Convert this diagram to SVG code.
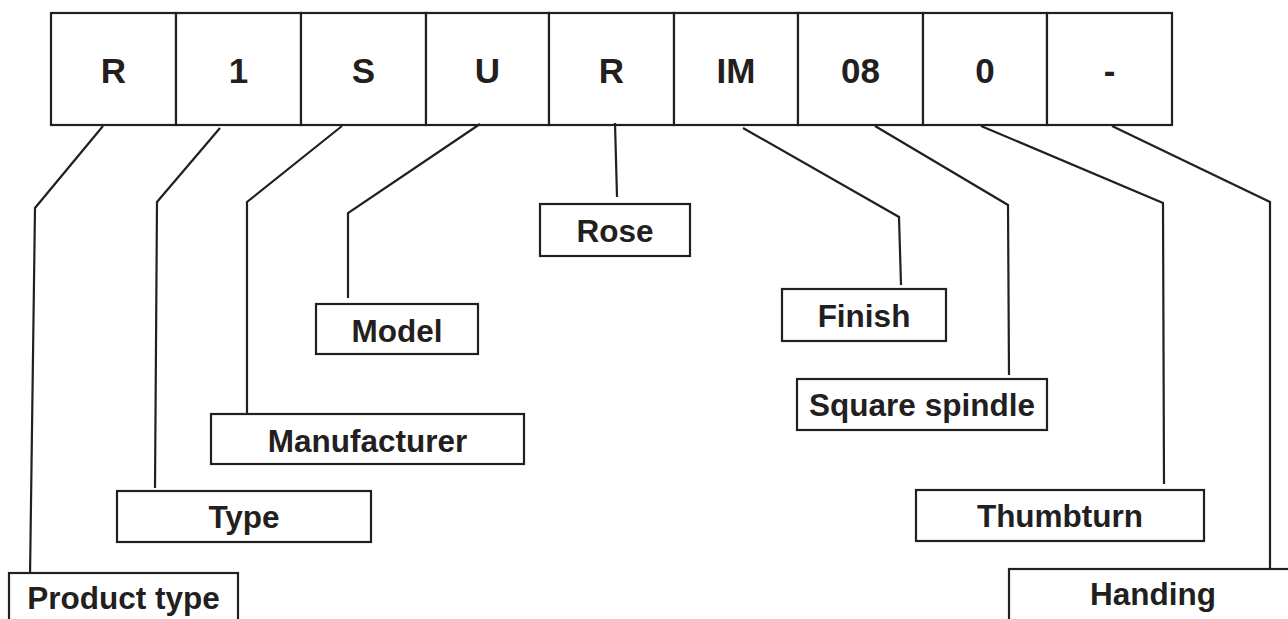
<svg xmlns="http://www.w3.org/2000/svg" width="1288" height="619" viewBox="0 0 1288 619">
<style>
.box{fill:#ffffff;stroke:#231f20;stroke-width:2.2}
.code{font-family:"Liberation Sans",Arial,sans-serif;font-weight:bold;font-size:35px;fill:#231f20;text-anchor:middle}
.lbl{font-family:"Liberation Sans",Arial,sans-serif;font-weight:bold;font-size:31.5px;fill:#231f20;text-anchor:middle}
.conn{fill:none;stroke:#231f20;stroke-width:2.2;stroke-linejoin:miter}
</style>
<rect width="1288" height="619" fill="#ffffff"/>
<g id="code">
<g id="c-r1"><rect class="box" x="51" y="13" width="125" height="112"/><text class="code" x="113.5" y="83">R</text></g>
<g id="c-1"><rect class="box" x="176" y="13" width="125" height="112"/><text class="code" x="238.5" y="83">1</text></g>
<g id="c-s"><rect class="box" x="301" y="13" width="125" height="112"/><text class="code" x="363.5" y="83">S</text></g>
<g id="c-u"><rect class="box" x="426" y="13" width="123" height="112"/><text class="code" x="487.5" y="83">U</text></g>
<g id="c-r2"><rect class="box" x="549" y="13" width="125" height="112"/><text class="code" x="611.5" y="83">R</text></g>
<g id="c-im"><rect class="box" x="674" y="13" width="124" height="112"/><text class="code" x="736" y="83">IM</text></g>
<g id="c-08"><rect class="box" x="798" y="13" width="125" height="112"/><text class="code" x="860.5" y="83">08</text></g>
<g id="c-0"><rect class="box" x="923" y="13" width="124" height="112"/><text class="code" x="985" y="83">0</text></g>
<g id="c-dash"><rect class="box" x="1047" y="13" width="125" height="112"/><text class="code" x="1109.5" y="83">-</text></g>
</g>
<g id="connectors">
<polyline class="conn" points="103,126 35,208 30,577"/>
<polyline class="conn" points="220,128 157,202 155,488"/>
<polyline class="conn" points="342,126 247,202 247,413"/>
<polyline class="conn" points="480,124 348,213 348,298"/>
<polyline class="conn" points="615,123 617,197"/>
<polyline class="conn" points="743,128 899,217 901,285"/>
<polyline class="conn" points="875,126 1008,205 1009,375"/>
<polyline class="conn" points="981,126 1163,203 1164,484"/>
<polyline class="conn" points="1112,126 1270,202 1270,568"/>
</g>
<g id="product-type"><rect class="box" x="9" y="573" width="229" height="60"/><text class="lbl" x="123.5" y="609">Product type</text></g>
<g id="type"><rect class="box" x="117" y="491" width="254" height="51"/><text class="lbl" x="244" y="528">Type</text></g>
<g id="manufacturer"><rect class="box" x="211" y="414" width="313" height="50"/><text class="lbl" x="367.5" y="452">Manufacturer</text></g>
<g id="model"><rect class="box" x="316" y="304" width="162" height="50"/><text class="lbl" x="397" y="342">Model</text></g>
<g id="rose"><rect class="box" x="540" y="204" width="150" height="52"/><text class="lbl" x="615" y="242">Rose</text></g>
<g id="finish"><rect class="box" x="782" y="289" width="164" height="52"/><text class="lbl" x="864" y="327">Finish</text></g>
<g id="square-spindle"><rect class="box" x="797" y="379" width="250" height="51"/><text class="lbl" x="922" y="416">Square spindle</text></g>
<g id="thumbturn"><rect class="box" x="916" y="490" width="288" height="51"/><text class="lbl" x="1060" y="527">Thumbturn</text></g>
<g id="handing"><rect class="box" x="1009" y="569" width="300" height="60"/><text class="lbl" x="1153" y="605">Handing</text></g>
</svg>
